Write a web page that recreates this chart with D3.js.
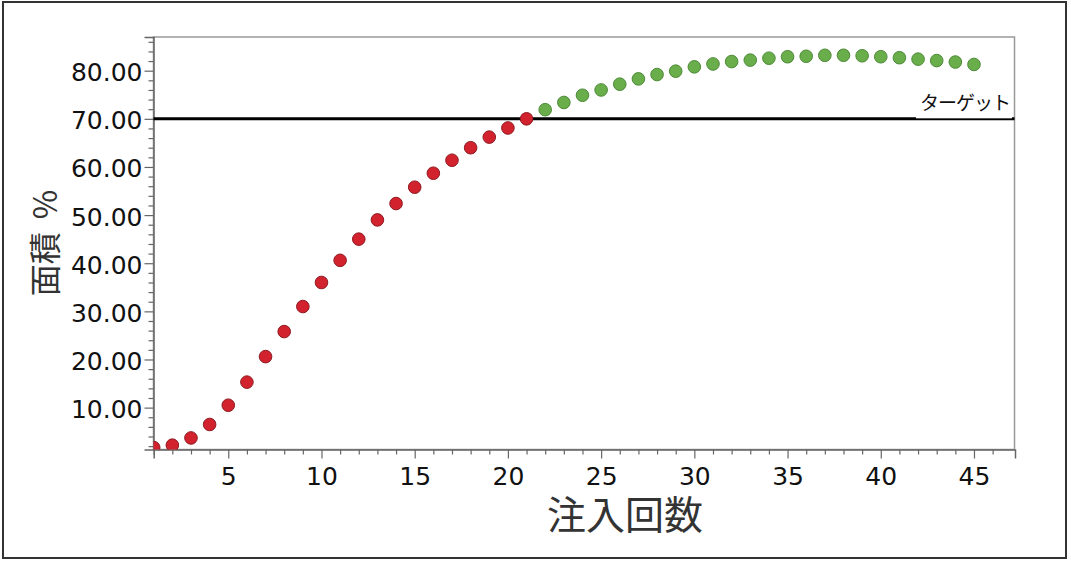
<!DOCTYPE html>
<html><head><meta charset="utf-8">
<script src="https://cdn.jsdelivr.net/npm/d3@7"></script>
<style>
html,body{margin:0;padding:0;background:#fff;}
svg{display:block;}
</style></head>
<body>
<svg id="chart" width="1071" height="562"></svg>
<script>
// ---- data ----
const injections = d3.range(1, 46);
const areaPct = [
  1.7, 2.2, 3.7, 6.5, 10.5, 15.3, 20.6, 25.8, 31.0, 36.0,
  40.6, 45.0, 49.0, 52.4, 55.8, 58.7, 61.4, 64.0, 66.2, 68.1,
  70.0, 71.9, 73.4, 74.9, 76.0, 77.2, 78.3, 79.2, 79.9, 80.8,
  81.4, 81.9, 82.2, 82.6, 82.9, 83.0, 83.2, 83.2, 83.1, 82.9,
  82.7, 82.4, 82.1, 81.8, 81.3
];
const target = 70;
const targetLabel = "ターゲット";
const yTickValues = [10, 20, 30, 40, 50, 60, 70, 80];
const xTickValues = [5, 10, 15, 20, 25, 30, 35, 40, 45];
const xTitle = "注入回数";
const yTitle = "面積 %";

// ---- layout ----
const svg = d3.select("#chart");
const L = 153.5, R = 1014.5, T = 37, B = 449.5;
const x = d3.scaleLinear().domain([1, 47.2]).range([L + 0.2, R + 0.5]);
const y = d3.scaleLinear().domain([1.3, 87]).range([B, T]);
const font = "'DejaVu Sans', Verdana, sans-serif";

// outer border
svg.append("rect").attr("x", 3).attr("y", 2).attr("width", 1063).attr("height", 556)
  .attr("fill", "#fff").attr("stroke", "#333").attr("stroke-width", 2);

// plot frame
svg.append("rect").attr("x", L).attr("y", T).attr("width", R - L).attr("height", B - T)
  .attr("fill", "#fff").attr("stroke", "#999").attr("stroke-width", 1.5);

// y axis minor + major
const yMinor = d3.range(2, 87, 2).filter(v => v % 10 !== 0);
svg.append("g").attr("transform", `translate(${L},0)`)
  .call(d3.axisLeft(y).tickValues(yMinor).tickSize(5).tickFormat(""))
  .call(g => { g.select(".domain").remove(); g.selectAll("text").remove();
               g.selectAll("line").attr("stroke", "#666").attr("stroke-width", 1.2); });
const yAx = svg.append("g").attr("transform", `translate(${L},0)`)
  .call(d3.axisLeft(y).tickValues(yTickValues).tickSize(9).tickPadding(2).tickFormat(d3.format(".2f")));
yAx.select(".domain").attr("stroke", "#666").attr("stroke-width", 1.5);
yAx.selectAll("line").attr("stroke", "#666").attr("stroke-width", 1.2);
yAx.selectAll("text").attr("font-family", font).attr("font-size", 25).attr("fill", "#111").attr("dy", "0.4em");

// x axis minor + major
const xMinor = d3.range(1, 47).filter(v => v % 5 !== 0);
svg.append("g").attr("transform", `translate(0,${B})`)
  .call(d3.axisBottom(x).tickValues(xMinor).tickSize(5).tickFormat(""))
  .call(g => { g.select(".domain").remove(); g.selectAll("text").remove();
               g.selectAll("line").attr("stroke", "#666").attr("stroke-width", 1.2); });
const xAx = svg.append("g").attr("transform", `translate(0,${B})`)
  .call(d3.axisBottom(x).tickValues(xTickValues).tickSize(9).tickPadding(9).tickFormat(d3.format("d")));
xAx.select(".domain").attr("stroke", "#666").attr("stroke-width", 1.5);
xAx.selectAll("line").attr("stroke", "#666").attr("stroke-width", 1.2);
xAx.selectAll("text").attr("font-family", font).attr("font-size", 25).attr("fill", "#111");

// clip
svg.append("clipPath").attr("id", "clip").append("rect")
  .attr("x", L).attr("y", T).attr("width", R - L).attr("height", B - T);

// target line
svg.append("line").attr("x1", L).attr("x2", R).attr("y1", y(target)).attr("y2", y(target))
  .attr("stroke", "#000").attr("stroke-width", 3);

// points
const pts = injections.map((n, i) => ({ n, v: areaPct[i] }));
svg.append("g").attr("clip-path", "url(#clip)")
  .selectAll("circle").data(pts).join("circle")
  .attr("cx", d => x(d.n)).attr("cy", d => y(d.v)).attr("r", 6.3)
  .attr("fill", d => d.n <= 21 ? "#d1222e" : "#6aad4b")
  .attr("stroke", d => d.n <= 21 ? "#8f1a22" : "#4d8a38")
  .attr("stroke-width", 1);

// target label with white background
svg.append("rect").attr("x", 916).attr("y", 88).attr("width", 96).attr("height", y(target) - 88 - 0.5)
  .attr("fill", "#fff");
svg.append("text").attr("x", 1010).attr("y", 110).attr("text-anchor", "end")
  .attr("font-family", "'Noto Sans CJK JP', sans-serif").attr("font-size", 19).attr("fill", "#111")
  .attr("letter-spacing", -1)
  .text(targetLabel);

// axis titles
svg.append("text").attr("x", 625).attr("y", 529).attr("text-anchor", "middle")
  .attr("font-family", "'Noto Sans CJK JP', sans-serif").attr("font-size", 39).attr("fill", "#333")
  .text(xTitle);
svg.append("text").attr("transform", "translate(57,243) rotate(-90)").attr("text-anchor", "middle")
  .attr("font-family", "'Noto Sans CJK JP', sans-serif").attr("font-size", 32).attr("fill", "#333")
  .attr("word-spacing", 6)
  .text(yTitle);
</script>
</body></html>
